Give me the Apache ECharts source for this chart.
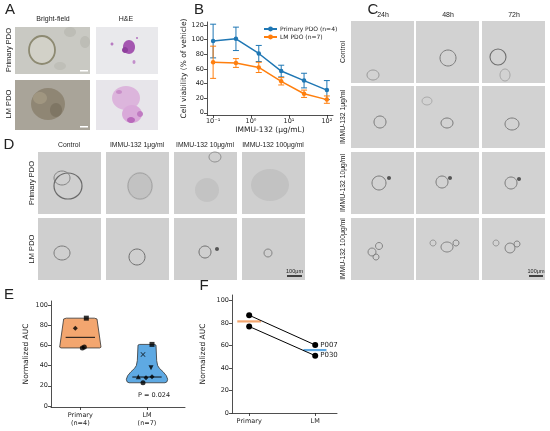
<!DOCTYPE html>
<html>
<head>
<meta charset="utf-8">
<script src="https://cdn.jsdelivr.net/npm/echarts@6/dist/echarts.min.js"></script>
<style>
  html, body { margin: 0; padding: 0; background: #fff; }
  #chart { width: 550px; height: 431px; }
</style>
</head>
<body>
<div id="chart"></div>
<script>
// panel B: dose response
const doses = [0.1, 0.4, 1.6, 6.25, 25, 100];
const primaryMean = [98, 101, 81, 57, 44, 31];
const primaryErr = [23, 16, 11, 8, 10, 13];
const lmMean = [69, 68, 62, 43, 26, 18];
const lmErr = [22, 6, 7, 5, 5, 5];
const doseTicks = [0.1, 1, 10, 100];
const doseTickLabels = ['10⁻¹', '10⁰', '10¹', '10²'];

// panel E: normalized AUC per PDO
const groupNames = ['Primary\n(n=4)', 'LM\n(n=7)'];
const primaryAUC = [87, 77, 57.5, 58.5];
const primaryJitter = [0.09, -0.075, 0.03, 0.06];
const primaryMarkers = ['rect', 'diamond', 'circle', 'circle'];
const lmAUC = [61, 51, 38, 29, 28, 29, 23];
const lmJitter = [0.075, -0.06, 0.06, -0.13, -0.015, 0.075, -0.06];
const lmMarkers = ['rect', 'cross', 'tridown', 'triangle', 'diamond', 'diamond', 'circle'];
const aucMedians = [68, 28.7];
// violin outline: [AUC, half density width]
const primaryViolin = [[87, 0.21], [86.2, 0.25], [58.3, 0.31], [57.5, 0.29]];
const lmViolin = [[61, 0.11], [60.3, 0.135], [45, 0.145], [40, 0.16], [37, 0.19], [34, 0.24],
  [30, 0.29], [26.5, 0.31], [24, 0.30], [23, 0.27]];
const pValue = 'P = 0.024';

// panel F: matched pairs
const pairNames = ['P007', 'P030'];
const pairPrimary = [87, 77];
const pairLM = [60.5, 51];
const pairMedians = [81.5, 56];
const pairCats = ['Primary', 'LM'];

const yTicks = [0, 20, 40, 60, 80, 100];
const viabilityTicks = [0, 20, 40, 60, 80, 100, 120];

const blue = '#1f77b4', orange = '#ff7f0e';
const violinFill = ['#f3a66f', '#5ea9e3'];
const ink = '#222';
const mplFont = 'DejaVu Sans';
const arial = 'Liberation Sans';

const chart = echarts.init(document.getElementById('chart'), null, { renderer: 'canvas' });

function axisStyle() {
  return {
    axisLine: { show: true, onZero: false, lineStyle: { color: ink, width: 0.8 } },
    axisTick: { show: true, length: 3, lineStyle: { color: ink, width: 0.8 } },
    axisLabel: { fontSize: 6.5, color: ink, margin: 3, fontFamily: mplFont },
    splitLine: { show: false },
    nameTextStyle: { fontSize: 7.5, color: ink, fontFamily: mplFont }
  };
}

function errRender(params, api) {
  const x = api.value(0), m = api.value(1), e = api.value(2);
  const top = api.coord([x, m + e]);
  const bot = api.coord([x, m - e]);
  const st = { stroke: api.visual('color'), lineWidth: 1 };
  return {
    type: 'group',
    children: [
      { type: 'line', shape: { x1: top[0], y1: top[1], x2: bot[0], y2: bot[1] }, style: st },
      { type: 'line', shape: { x1: top[0] - 3, y1: top[1], x2: top[0] + 3, y2: top[1] }, style: st },
      { type: 'line', shape: { x1: bot[0] - 3, y1: bot[1], x2: bot[0] + 3, y2: bot[1] }, style: st }
    ]
  };
}

const violins = [primaryViolin, lmViolin];
function violinRender(params, api) {
  const c = params.dataIndex;
  const pts = violins[c];
  const right = pts.map(p => api.coord([c + p[1], p[0]]));
  const left = pts.slice().reverse().map(p => api.coord([c - p[1], p[0]]));
  const a = api.coord([c - 0.22, aucMedians[c]]);
  const b = api.coord([c + 0.22, aucMedians[c]]);
  return {
    type: 'group',
    children: [
      { type: 'polygon', shape: { points: right.concat(left) },
        style: { fill: violinFill[c], stroke: '#333', lineWidth: 0.8 } },
      { type: 'line', shape: { x1: a[0], y1: a[1], x2: b[0], y2: b[1] },
        style: { stroke: '#111', lineWidth: 1 } }
    ]
  };
}

const crossPath = 'path://M1,0L5,4L9,0L10,1L6,5L10,9L9,10L5,6L1,10L0,9L4,5L0,1Z';
function markerItem(x, y, m) {
  if (m === 'cross') return { value: [x, y], symbol: crossPath, symbolSize: 5 };
  if (m === 'tridown') return { value: [x, y], symbol: 'triangle', symbolRotate: 180 };
  return { value: [x, y], symbol: m };
}

// ---------- image panels (drawn as plain tiles) ----------
const graphics = [];
function txt(x, y, s, size, opts) {
  opts = opts || {};
  graphics.push({
    type: 'text', x: x, y: y, rotation: opts.rot || 0, silent: true,
    style: { text: s, fontSize: size, fontFamily: opts.font || arial, fill: opts.color || '#222',
      textAlign: opts.align || 'center', textVerticalAlign: 'middle' }
  });
}
function tile(x, y, w, h, fill) {
  graphics.push({ type: 'rect', silent: true, shape: { x: x, y: y, width: w, height: h }, style: { fill: fill } });
}
function ring(cx, cy, rx, ry, color, lw, fill) {
  graphics.push({ type: 'ellipse', silent: true, shape: { cx: cx, cy: cy, rx: rx, ry: ry },
    style: { fill: fill || 'none', stroke: color, lineWidth: lw } });
}
function blob(cx, cy, rx, ry, fill) {
  graphics.push({ type: 'ellipse', silent: true, shape: { cx: cx, cy: cy, rx: rx, ry: ry }, style: { fill: fill } });
}
function scaleBar(x1, x2, y, label) {
  graphics.push({ type: 'line', silent: true, shape: { x1: x1, y1: y, x2: x2, y2: y },
    style: { stroke: '#111', lineWidth: 1.5 } });
  txt((x1 + x2) / 2, y - 5, label, 5.5);
}

// panel letters
txt(10, 10, 'A', 15);
txt(199, 10, 'B', 15);
txt(373, 10, 'C', 15);
txt(9, 145, 'D', 15);
txt(9, 295, 'E', 15);
txt(204, 286, 'F', 15);

// A
txt(53, 19, 'Bright-field', 7);
txt(126, 19, 'H&E', 7);
txt(9, 50, 'Primary PDO', 7.5, { rot: Math.PI / 2 });
txt(9, 104, 'LM PDO', 7.5, { rot: Math.PI / 2 });
tile(15, 27, 75, 47, '#c9c9c3');
blob(70, 32, 6, 5, '#bdbdb6'); blob(85, 42, 5, 6, '#bdbdb6'); blob(60, 66, 6, 4, '#bfbfb8');
ring(42, 50, 13, 14, '#8d8a72', 1.8, '#d2d1c8');
tile(96, 27, 62, 47, '#e9e9ec');
blob(129, 47, 6, 7, '#a456b0'); blob(125, 50, 3, 3, '#8e3f9c'); blob(112, 44, 1.5, 1.5, '#b87cc2');
blob(134, 62, 1.5, 2, '#c38fcb'); blob(137, 38, 1, 1, '#b87cc2');
tile(15, 80, 75, 50, '#a9a499');
blob(48, 104, 17, 16, '#8f8674'); blob(40, 98, 7, 6, '#a09680'); blob(56, 110, 6, 7, '#7f7664');
tile(96, 80, 62, 50, '#e7e5ea');
blob(126, 98, 14, 12, '#dcb5dc'); blob(132, 114, 10, 9, '#d9a9d9');
blob(131, 120, 4, 3, '#b96abb'); blob(140, 114, 3, 3, '#c07ac2'); blob(119, 92, 3, 2, '#c98ec9');
graphics.push({ type: 'rect', silent: true, shape: { x: 80, y: 70, width: 8, height: 1.5 }, style: { fill: '#fff' } });
graphics.push({ type: 'rect', silent: true, shape: { x: 80, y: 126, width: 8, height: 1.5 }, style: { fill: '#fff' } });

// C
const cCols = [351, 416, 482], cRows = [21, 86, 152, 218];
['24h', '48h', '72h'].forEach((s, i) => txt(cCols[i] + 32, 15, s, 7));
['Control', 'IMMU-132 1μg/ml', 'IMMU-132 10μg/ml', 'IMMU-132 100μg/ml'].forEach((s, i) =>
  txt(343, cRows[i] + 31, s, 6.8, { rot: Math.PI / 2 }));
cRows.forEach(y => cCols.forEach(x => tile(x, y, 63, 62, '#d2d2d2')));
ring(373, 75, 6, 5, '#9a9a9a', 1); ring(448, 58, 8, 8, '#7a7a7a', 1); ring(498, 57, 8, 8, '#6f6f6f', 1.1);
ring(427, 101, 5, 4, '#a0a0a0', 0.8); ring(505, 75, 5, 6, '#9a9a9a', 0.8);
ring(380, 122, 6, 6, '#7a7a7a', 1); ring(447, 123, 6, 5, '#7a7a7a', 1); ring(512, 124, 7, 6, '#7a7a7a', 1);
ring(379, 183, 7, 7, '#7a7a7a', 1); blob(389, 178, 2, 2, '#555');
ring(442, 182, 6, 6, '#7a7a7a', 1); blob(450, 178, 2, 2, '#555');
ring(511, 183, 6, 6, '#7a7a7a', 1); blob(519, 179, 2, 2, '#555');
ring(372, 252, 4, 4, '#7a7a7a', 0.9); ring(379, 246, 3.5, 3.5, '#7a7a7a', 0.9); ring(376, 257, 3, 3, '#7a7a7a', 0.9);
ring(447, 247, 6, 5, '#7a7a7a', 0.9); ring(456, 243, 3, 3, '#7a7a7a', 0.9); ring(433, 243, 3, 3, '#8a8a8a', 0.8);
ring(510, 248, 5, 5, '#7a7a7a', 0.9); ring(517, 244, 3, 3, '#7a7a7a', 0.9); ring(496, 243, 3, 3, '#8a8a8a', 0.8);
scaleBar(529, 543, 276, '100μm');

// D
const dCols = [38, 106, 174, 242], dRows = [152, 218];
['Control', 'IMMU-132 1μg/ml', 'IMMU-132 10μg/ml', 'IMMU-132 100μg/ml'].forEach((s, i) =>
  txt(dCols[i] + 31, 145, s, 6.8));
txt(32, 183, 'Primary PDO', 7.5, { rot: Math.PI / 2 });
txt(32, 249, 'LM PDO', 7.5, { rot: Math.PI / 2 });
dRows.forEach(y => dCols.forEach(x => tile(x, y, 63, 62, '#cfcfcf')));
ring(68, 186, 14, 13, '#6a6a6a', 1.2); ring(62, 178, 8, 7, '#7a7a7a', 0.9);
blob(140, 186, 13, 14, '#c2c2c2'); ring(140, 186, 12, 13, '#9a9a9a', 0.8);
ring(215, 157, 6, 5, '#8a8a8a', 0.9); blob(207, 190, 12, 12, '#c3c3c3');
blob(270, 185, 19, 16, '#c2c2c2');
ring(62, 253, 8, 7, '#7a7a7a', 1); ring(137, 257, 8, 8, '#6f6f6f', 1);
ring(205, 252, 6, 6, '#6f6f6f', 1); blob(217, 249, 2, 2, '#555'); ring(268, 253, 4, 4, '#7a7a7a', 0.9);
scaleBar(287, 302, 276, '100μm');

// E extra text
txt(154, 395, pValue, 6.5, { font: mplFont });

const option = {
  backgroundColor: '#fff',
  animation: false,
  textStyle: { fontFamily: mplFont },
  graphic: graphics,
  legend: {
    data: ['Primary PDO (n=4)', 'LM PDO (n=7)'],
    orient: 'vertical', left: 263, top: 26, padding: 0, itemGap: 2,
    itemWidth: 13, itemHeight: 6,
    textStyle: { fontSize: 6, color: ink, fontFamily: mplFont, padding: [0, 0, 0, -2] }
  },
  grid: [
    { left: 207, top: 22, width: 126, height: 93, outerBoundsMode: 'none' },
    { left: 51, top: 301, width: 134, height: 106, outerBoundsMode: 'none' },
    { left: 232, top: 295, width: 105, height: 118, outerBoundsMode: 'none' }
  ],
  xAxis: [
    Object.assign(axisStyle(), {
      gridIndex: 0, type: 'log', logBase: 10, min: 0.069, max: 145,
      name: 'IMMU-132 (μg/mL)', nameLocation: 'middle', nameGap: 10,
      axisLabel: Object.assign(axisStyle().axisLabel, {
        customValues: doseTicks,
        formatter: v => doseTickLabels[doseTicks.findIndex(t => Math.abs(t - v) < 1e-6)] || ''
      }),
      axisTick: Object.assign(axisStyle().axisTick, { customValues: doseTicks })
    }),
    Object.assign(axisStyle(), {
      gridIndex: 1, type: 'value', min: -0.44, max: 1.57,
      axisLabel: Object.assign(axisStyle().axisLabel, {
        customValues: [0, 1], lineHeight: 8, margin: 4,
        formatter: v => groupNames[Math.round(v)]
      }),
      axisTick: Object.assign(axisStyle().axisTick, { customValues: [0, 1] })
    }),
    Object.assign(axisStyle(), {
      gridIndex: 2, type: 'value', min: -0.26, max: 1.33,
      axisLabel: Object.assign(axisStyle().axisLabel, {
        customValues: [0, 1], margin: 5,
        formatter: v => pairCats[Math.round(v)]
      }),
      axisTick: Object.assign(axisStyle().axisTick, { customValues: [0, 1] })
    })
  ],
  yAxis: [
    Object.assign(axisStyle(), {
      gridIndex: 0, type: 'value', min: -3, max: 124,
      name: 'Cell viability (% of vehicle)', nameLocation: 'middle', nameGap: 18,
      axisLabel: Object.assign(axisStyle().axisLabel, { customValues: viabilityTicks }),
      axisTick: Object.assign(axisStyle().axisTick, { customValues: viabilityTicks })
    }),
    Object.assign(axisStyle(), {
      gridIndex: 1, type: 'value', min: -1, max: 104,
      name: 'Normalized AUC', nameLocation: 'middle', nameGap: 21,
      axisLabel: Object.assign(axisStyle().axisLabel, { customValues: yTicks }),
      axisTick: Object.assign(axisStyle().axisTick, { customValues: yTicks })
    }),
    Object.assign(axisStyle(), {
      gridIndex: 2, type: 'value', min: 0, max: 105,
      name: 'Normalized AUC', nameLocation: 'middle', nameGap: 25,
      axisLabel: Object.assign(axisStyle().axisLabel, { customValues: yTicks }),
      axisTick: Object.assign(axisStyle().axisTick, { customValues: yTicks })
    })
  ],
  series: [
    {
      type: 'custom', name: 'primaryErr', xAxisIndex: 0, yAxisIndex: 0, color: blue,
      renderItem: errRender, encode: { x: 0, y: 1 },
      data: doses.map((d, i) => [d, primaryMean[i], primaryErr[i]])
    },
    {
      type: 'custom', name: 'lmErr', xAxisIndex: 0, yAxisIndex: 0, color: orange,
      renderItem: errRender, encode: { x: 0, y: 1 },
      data: doses.map((d, i) => [d, lmMean[i], lmErr[i]])
    },
    {
      type: 'line', name: 'Primary PDO (n=4)', xAxisIndex: 0, yAxisIndex: 0, color: blue,
      symbol: 'circle', symbolSize: 4.5, lineStyle: { width: 1.5 },
      data: doses.map((d, i) => [d, primaryMean[i]])
    },
    {
      type: 'line', name: 'LM PDO (n=7)', xAxisIndex: 0, yAxisIndex: 0, color: orange,
      symbol: 'circle', symbolSize: 4.5, lineStyle: { width: 1.5 },
      data: doses.map((d, i) => [d, lmMean[i]])
    },
    {
      type: 'custom', xAxisIndex: 1, yAxisIndex: 1, renderItem: violinRender,
      encode: { x: 0, y: 1 }, data: [[0, 70], [1, 40]], z: 1
    },
    {
      type: 'scatter', xAxisIndex: 1, yAxisIndex: 1, symbolSize: 5, z: 3,
      itemStyle: { color: '#000' },
      data: primaryAUC.map((v, i) => markerItem(primaryJitter[i], v, primaryMarkers[i]))
        .concat(lmAUC.map((v, i) => markerItem(1 + lmJitter[i], v, lmMarkers[i])))
    },
    {
      type: 'line', xAxisIndex: 2, yAxisIndex: 2, color: violinFill[0], symbol: 'none',
      lineStyle: { width: 2.2 }, data: [[-0.18, pairMedians[0]], [0.18, pairMedians[0]]]
    },
    {
      type: 'line', xAxisIndex: 2, yAxisIndex: 2, color: violinFill[1], symbol: 'none',
      lineStyle: { width: 2.2 }, data: [[0.82, pairMedians[1]], [1.17, pairMedians[1]]]
    }
  ].concat(pairNames.map((n, i) => ({
    type: 'line', name: n, xAxisIndex: 2, yAxisIndex: 2, color: '#000',
    symbol: 'circle', symbolSize: 6, lineStyle: { width: 1 }, z: 4,
    data: [
      [0, pairPrimary[i]],
      { value: [1, pairLM[i]], label: { show: true, position: 'right', distance: 2, formatter: n,
        fontSize: 7, color: ink, fontFamily: mplFont } }
    ]
  })))
};

chart.setOption(option);
</script>
</body>
</html>
